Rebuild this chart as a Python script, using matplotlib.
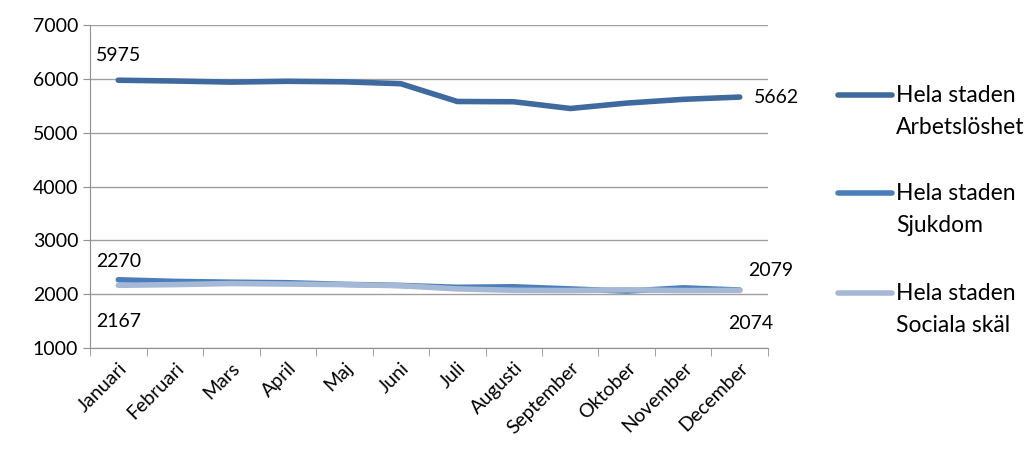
#!/usr/bin/env python3

import matplotlib.pyplot as plt
from matplotlib.lines import Line2D
import numpy as np

months = ["Januari", "Februari", "Mars", "April", "Maj", "Juni", "Juli",
          "Augusti", "September", "Oktober", "November", "December"]
arbetsloshet = [5975, 5960, 5940, 5955, 5945, 5910, 5580, 5575, 5450, 5550, 5620, 5662]
sjukdom = [2270, 2240, 2225, 2215, 2185, 2165, 2130, 2140, 2100, 2060, 2120, 2079]
sociala = [2167, 2180, 2200, 2190, 2180, 2160, 2100, 2075, 2070, 2085, 2070, 2074]
series_names = [("Hela staden", "Arbetslöshet"), ("Hela staden", "Sjukdom"),
                ("Hela staden", "Sociala skäl")]
colors = ["#3F6A9F", "#4A7EBB", "#A5B9D7"]


def main():
    plt.rcParams['font.family'] = ['Lato', 'DejaVu Sans']
    fig = plt.figure(figsize=(10.35, 4.63), dpi=100)
    ax = fig.add_axes([0.087, 0.248, 0.655, 0.698])

    x = np.arange(len(months))
    for vals, c in zip([arbetsloshet, sjukdom, sociala], colors):
        ax.plot(x, vals, color=c, lw=4, solid_capstyle='round', solid_joinstyle='round')

    ax.set_xlim(-0.5, len(months) - 0.5)
    ax.set_ylim(1000, 7000)
    ax.set_yticks(range(1000, 7001, 1000))
    ax.yaxis.grid(True, color="#A0A0A0", lw=1)
    ax.set_axisbelow(True)
    for s in ["top", "right"]:
        ax.spines[s].set_visible(False)
    ax.spines["left"].set_color("#909090")
    ax.spines["bottom"].set_color("#909090")
    ax.tick_params(axis='y', length=5, color="#909090", labelsize=14)

    ax.set_xticks(x)
    ax.set_xticklabels(months, rotation=45, ha='right', rotation_mode='anchor', fontsize=14)
    ax.set_xticks(np.arange(-0.5, len(months)), minor=True)
    ax.tick_params(axis='x', which='major', length=0, pad=8)
    ax.tick_params(axis='x', which='minor', length=6, color="#909090")

    fs = 14
    ax.annotate(str(arbetsloshet[0]), (x[0], arbetsloshet[0]), xytext=(0, 12),
                textcoords='offset points', ha='center', va='bottom', fontsize=fs)
    ax.annotate(str(arbetsloshet[-1]), (x[-1], arbetsloshet[-1]), xytext=(10, 0),
                textcoords='offset points', ha='left', va='center', fontsize=fs)
    ax.annotate(str(sjukdom[0]), (x[0], sjukdom[0]), xytext=(0, 7),
                textcoords='offset points', ha='center', va='bottom', fontsize=fs)
    ax.annotate(str(sociala[0]), (x[0], sociala[0]), xytext=(0, -20),
                textcoords='offset points', ha='center', va='top', fontsize=fs)
    ax.annotate(str(sjukdom[-1]), (x[-1], sjukdom[-1]), xytext=(6, 8),
                textcoords='offset points', ha='left', va='bottom', fontsize=fs)
    ax.annotate(str(sociala[-1]), (x[-1], sociala[-1]), xytext=(-8, -18),
                textcoords='offset points', ha='left', va='top', fontsize=fs)

    # legend drawn by hand so the line sits next to the first text line
    ys = [95, 193, 293]
    for (l1, l2), c, yp in zip(series_names, colors, ys):
        yf = 1 - yp / 463
        fig.add_artist(Line2D([838 / 1035, 892 / 1035], [yf, yf], color=c, lw=4,
                              solid_capstyle='round', transform=fig.transFigure))
        fig.text(896 / 1035, yf, l1, ha='left', va='center', fontsize=16.5)
        fig.text(896 / 1035, 1 - (yp + 32) / 463, l2, ha='left', va='center', fontsize=16.5)

    fig.savefig("out.png", dpi=100)


if __name__ == "__main__":
    main()
